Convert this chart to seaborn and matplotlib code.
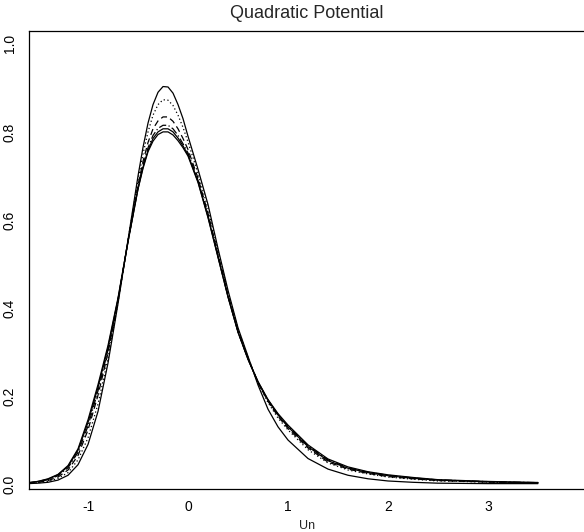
import pandas as pd
import matplotlib
matplotlib.use("Agg")
import matplotlib.pyplot as plt
import seaborn as sns

# grid of Un values
un = [-1.6, -1.5, -1.4, -1.3, -1.2, -1.1, -1.0, -0.9, -0.8, -0.7, -0.6, -0.5,
      -0.45, -0.4, -0.35, -0.3, -0.25, -0.2, -0.15, -0.1, -0.05,
      0.0, 0.1, 0.2, 0.3, 0.4, 0.5, 0.6, 0.7, 0.8, 0.9,
      1.0, 1.2, 1.4, 1.6, 1.8, 2.0, 2.25, 2.5, 2.75, 3.0, 3.25, 3.5]

# tallest / narrowest solid curve
dens_narrow = [0.001, 0.002, 0.004, 0.009, 0.02, 0.044, 0.09, 0.165, 0.275, 0.41, 0.555, 0.70,
               0.765, 0.82, 0.862, 0.89, 0.903, 0.902, 0.888, 0.862, 0.83,
               0.79, 0.715, 0.635, 0.535, 0.44, 0.355, 0.29, 0.225, 0.17, 0.13,
               0.10, 0.058, 0.034, 0.02, 0.012, 0.007, 0.004, 0.002, 0.0015, 0.001, 0.001, 0.001]

dens_dot = [0.0015, 0.003, 0.006, 0.013, 0.026, 0.055, 0.105, 0.182, 0.285, 0.413, 0.554, 0.691,
            0.75, 0.80, 0.838, 0.862, 0.873, 0.872, 0.86, 0.838, 0.81,
            0.777, 0.706, 0.626, 0.529, 0.436, 0.352, 0.288, 0.23, 0.185, 0.15,
            0.123, 0.078, 0.048, 0.032, 0.023, 0.016, 0.011, 0.007, 0.006, 0.004, 0.0033, 0.0025]

dens_dash = [0.002, 0.004, 0.008, 0.016, 0.032, 0.065, 0.123, 0.202, 0.298, 0.417, 0.552, 0.679,
             0.733, 0.776, 0.807, 0.825, 0.834, 0.834, 0.824, 0.807, 0.785,
             0.76, 0.695, 0.615, 0.522, 0.43, 0.348, 0.285, 0.23, 0.188, 0.154,
             0.126, 0.082, 0.05, 0.034, 0.024, 0.017, 0.012, 0.008, 0.0064, 0.0045, 0.0036, 0.0027]

dens_dashdot = [0.0025, 0.005, 0.01, 0.019, 0.037, 0.072, 0.132, 0.212, 0.305, 0.419, 0.551, 0.674,
                0.725, 0.764, 0.792, 0.808, 0.815, 0.815, 0.807, 0.792, 0.773,
                0.752, 0.69, 0.61, 0.518, 0.427, 0.346, 0.284, 0.231, 0.191, 0.158,
                0.131, 0.087, 0.055, 0.037, 0.027, 0.02, 0.014, 0.0095, 0.0075, 0.0055, 0.0043, 0.0033]

dens_solid2 = [0.003, 0.006, 0.012, 0.022, 0.042, 0.08, 0.146, 0.226, 0.315, 0.423, 0.552, 0.671,
               0.72, 0.758, 0.785, 0.80, 0.807, 0.807, 0.80, 0.786, 0.768,
               0.748, 0.687, 0.607, 0.516, 0.425, 0.345, 0.284, 0.233, 0.192, 0.16,
               0.134, 0.089, 0.057, 0.039, 0.028, 0.021, 0.015, 0.01, 0.008, 0.006, 0.0047, 0.0036]

# widest solid curve
dens_wide = [0.003, 0.006, 0.011, 0.021, 0.04, 0.077, 0.14, 0.22, 0.31, 0.42, 0.55, 0.67,
             0.717, 0.755, 0.779, 0.794, 0.80, 0.80, 0.793, 0.78, 0.764,
             0.745, 0.685, 0.605, 0.515, 0.425, 0.345, 0.283, 0.232, 0.19, 0.157,
             0.13, 0.085, 0.053, 0.036, 0.026, 0.019, 0.013, 0.009, 0.007, 0.005, 0.004, 0.003]

x_ticks = [-1, 0, 1, 2, 3]
y_ticks = [0.0, 0.2, 0.4, 0.6, 0.8, 1.0]

sns.set_style("white")
plt.rcParams['font.family'] = ['Liberation Sans', 'DejaVu Sans']

fig = plt.figure(figsize=(5.84, 5.32), dpi=100)
ax = fig.add_axes([0.0497, 0.081, 0.952, 0.861])

curves = [
    (dens_narrow, None),
    (dens_dot, (1, 2)),
    (dens_dash, (5, 3)),
    (dens_dashdot, (6, 2, 1, 2)),
    (dens_solid2, None),
    (dens_wide, None),
]
for dens, dash in curves:
    sns.lineplot(x=un, y=dens, ax=ax, color='black', linewidth=0.9)
    if dash is not None:
        ax.lines[-1].set_dashes(dash)

ax.set_xlim(-1.59, 3.97)
ax.set_ylim(-0.011, 1.0295)
ax.set_xticks(x_ticks)
ax.set_xticklabels([str(t) for t in x_ticks])
ax.set_yticks(y_ticks)
ax.set_yticklabels([f"{t:.1f}" for t in y_ticks], rotation=90, va='center')
ax.tick_params(direction='in', length=4, width=0.8, labelsize=10, colors='black')
ax.tick_params(axis='x', pad=8)
ax.tick_params(axis='y', pad=9)
for s in ax.spines.values():
    s.set_color('black')
    s.set_linewidth(0.9)

ax.set_xlabel('Un', fontsize=9, labelpad=4)
ax.set_ylabel('')
ax.set_title('Quadratic Potential', fontsize=13, pad=9)

fig.savefig('out.png', dpi=100)
